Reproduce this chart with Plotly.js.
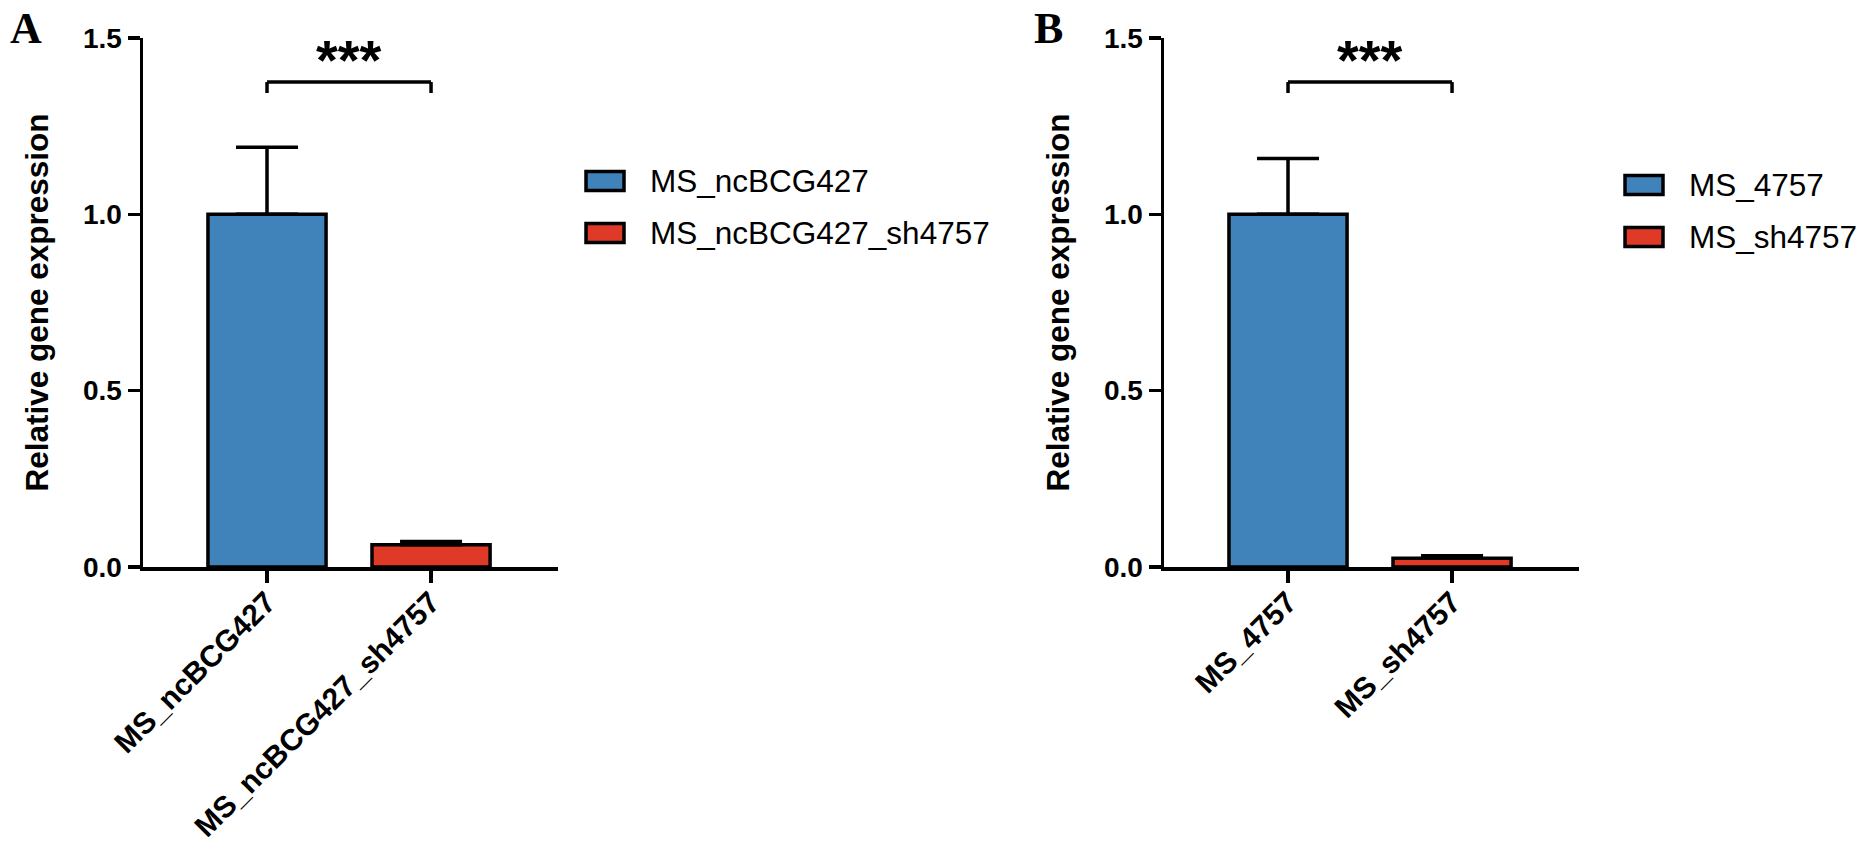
<!DOCTYPE html>
<html>
<head>
<meta charset="utf-8">
<script src="https://cdn.plot.ly/plotly-3.0.1.min.js"></script>
<style>
  html, body {margin:0; padding:0; background:#fff;}
  #chart {width:1873px; height:854px;}
</style>
</head>
<body>
<div id="chart"></div>
<script>
// panel A
const groupsA = ["MS_ncBCG427", "MS_ncBCG427_sh4757"];
const meansA = [1.0, 0.063];
const errA = [0.19, 0.009];

// panel B
const groupsB = ["MS_4757", "MS_sh4757"];
const meansB = [1.0, 0.025];
const errB = [0.158, 0.007];

const barColors = ["#4083BA", "#DE3A27"];
const yTicks = [0, 0.5, 1.0, 1.5];
const sigLabel = "***";

const W = 1873, H = 854;
const px = x => x / W;
const py = y => 1 - y / H;

const sans = "Liberation Sans, Arial, sans-serif";
const bold = {family: sans, size: 28, color: "#000", weight: "bold"};

function barTraces(groups, means, errs, xa, ya) {
    return groups.map((g, i) => ({
        type: "bar",
        x: [g],
        y: [means[i]],
        xaxis: xa,
        yaxis: ya,
        width: 0.72,
        name: g,
        showlegend: false,
        marker: {color: barColors[i], line: {color: "#000", width: 3.5}},
        error_y: {
            type: "data", symmetric: false,
            array: [errs[i]], arrayminus: [0],
            color: "#000", thickness: 3.5, width: 31
        }
    }));
}

function xAxis(domain) {
    return {
        domain: domain, type: "category", range: [-0.756, 1.774],
        showline: true, linecolor: "#000", linewidth: 3.5,
        ticks: "outside", ticklen: 12, tickwidth: 3.5, tickcolor: "#000",
        tickangle: -45, tickfont: Object.assign({}, bold, {size: 30}),
        ticklabelstandoff: -10,
        showgrid: false, zeroline: false, fixedrange: true
    };
}

function yAxis(anchor) {
    return {
        domain: [py(567), py(38)], anchor: anchor, range: [0, 1.5],
        tickvals: yTicks, tickformat: ".1f",
        showline: true, linecolor: "#000", linewidth: 3.5,
        ticks: "outside", ticklen: 12, tickwidth: 3.5, tickcolor: "#000",
        tickfont: bold, showgrid: false, zeroline: false,
        title: {text: "Relative gene expression", standoff: 26,
                font: Object.assign({}, bold, {size: 31.5})},
        fixedrange: true
    };
}

// significance bracket between the two bars
function bracket(xa, ya, low, high) {
    const line = {color: "#000", width: 3.5};
    return [
        {type: "line", xref: xa, yref: ya, x0: 0, x1: 1, y0: high, y1: high, line: line},
        {type: "line", xref: xa, yref: ya, x0: 0, x1: 0, y0: low, y1: high, line: line},
        {type: "line", xref: xa, yref: ya, x0: 1, x1: 1, y0: low, y1: high, line: line}
    ];
}

// legend drawn as boxes + labels
function legendBlock(groups, boxX, rowsY) {
    const shapes = [], notes = [];
    groups.forEach((g, i) => {
        const cy = rowsY[i];
        shapes.push({
            type: "rect", xref: "paper", yref: "paper",
            x0: px(boxX), x1: px(boxX + 38), y0: py(cy + 9.5), y1: py(cy - 9.5),
            fillcolor: barColors[i], line: {color: "#000", width: 3.5}
        });
        notes.push({
            xref: "paper", yref: "paper", x: px(boxX + 62), y: py(cy),
            xanchor: "left", yanchor: "middle", showarrow: false, text: g,
            font: {family: sans, size: 31.5, color: "#000"}
        });
    });
    return {shapes, notes};
}

const legA = legendBlock(groupsA, 586, [181, 233]);
const legB = legendBlock(groupsB, 1625, [185, 237]);

const starFont = {family: sans, size: 56, color: "#000", weight: "bold"};
const panelFont = {family: "Liberation Serif, Times New Roman, serif", size: 44, color: "#000", weight: "bold"};

const layout = {
    width: W, height: H,
    margin: {l: 0, r: 0, t: 0, b: 0},
    paper_bgcolor: "#fff", plot_bgcolor: "#fff",
    barmode: "overlay",
    showlegend: false,
    xaxis: xAxis([px(143), px(558)]),
    yaxis: yAxis("x"),
    xaxis2: Object.assign(xAxis([px(1164), px(1579)]), {anchor: "y2"}),
    yaxis2: yAxis("x2"),
    shapes: [].concat(
        bracket("x", "y", 1.344, 1.375),
        bracket("x2", "y2", 1.344, 1.375),
        legA.shapes, legB.shapes
    ),
    annotations: [
        {xref: "x", yref: "y", x: 0.5, y: 1.44, text: sigLabel, showarrow: false, font: starFont},
        {xref: "x2", yref: "y2", x: 0.5, y: 1.44, text: sigLabel, showarrow: false, font: starFont},
        {xref: "paper", yref: "paper", x: px(8), y: py(2), xanchor: "left", yanchor: "top",
         text: "A", showarrow: false, font: panelFont},
        {xref: "paper", yref: "paper", x: px(1032), y: py(2), xanchor: "left", yanchor: "top",
         text: "B", showarrow: false, font: panelFont}
    ].concat(legA.notes, legB.notes)
};

const traces = barTraces(groupsA, meansA, errA, "x", "y")
    .concat(barTraces(groupsB, meansB, errB, "x2", "y2"));

Plotly.newPlot("chart", traces, layout, {staticPlot: true, displayModeBar: false});
</script>
</body>
</html>
